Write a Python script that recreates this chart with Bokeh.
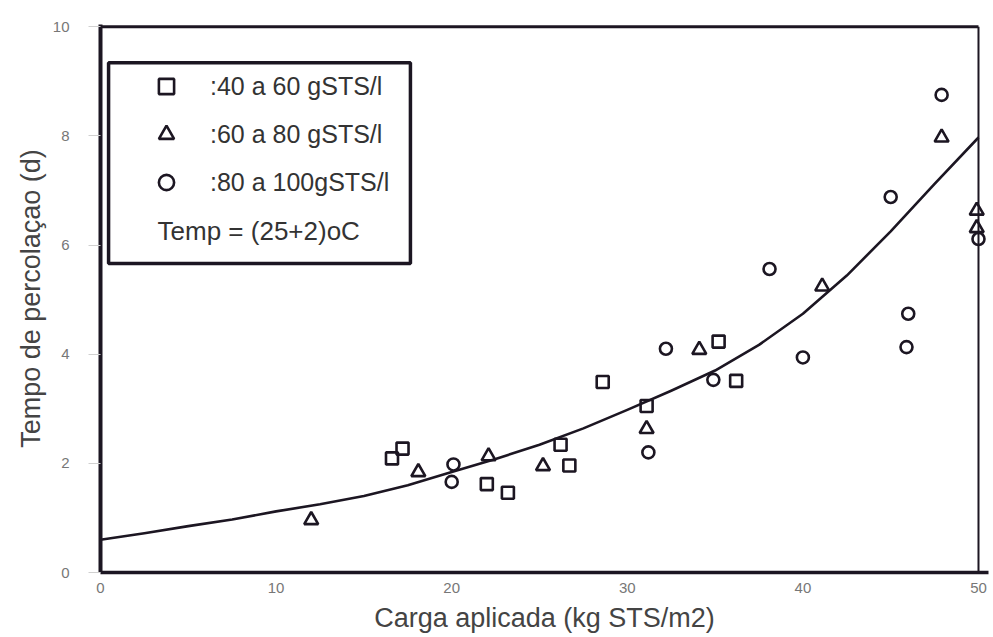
from bokeh.plotting import figure
from bokeh.models import Range1d, FixedTicker, Legend, LegendItem, Label, BoxAnnotation
from bokeh.embed import file_html
from bokeh.resources import INLINE

# ---- data ----
sq_x = [16.6, 17.2, 22.0, 23.2, 26.2, 26.7, 28.6, 31.1, 35.2, 36.2]
sq_y = [2.09, 2.27, 1.62, 1.46, 2.34, 1.96, 3.49, 3.05, 4.23, 3.51]

tri_x = [12.0, 18.1, 22.1, 25.2, 31.1, 34.1, 41.1, 47.9, 49.9, 49.9]
tri_y = [0.96, 1.84, 2.13, 1.95, 2.63, 4.08, 5.24, 7.97, 6.63, 6.31]

cir_x = [20.1, 20.0, 31.2, 32.2, 34.9, 38.1, 40.0, 45.0, 46.0, 45.9, 47.9, 50.0]
cir_y = [1.98, 1.66, 2.20, 4.10, 3.53, 5.56, 3.94, 6.88, 4.74, 4.13, 8.75, 6.11]

curve_x = [0.0, 2.5, 5.0, 7.5, 10.0, 12.5, 15.0, 17.5, 20.0, 22.5, 25.0,
           27.5, 30.0, 32.5, 35.0, 37.5, 40.0, 42.5, 45.0, 47.5, 50.0]
curve_y = [0.60, 0.72, 0.85, 0.97, 1.12, 1.25, 1.40, 1.60, 1.84, 2.08, 2.34,
           2.64, 2.98, 3.33, 3.70, 4.17, 4.74, 5.44, 6.25, 7.12, 7.97]

x_ticks = [0, 10, 20, 30, 40, 50]
y_ticks = [0, 2, 4, 6, 8, 10]

labels = [":40 a 60 gSTS/l", ":60 a 80 gSTS/l", ":80 a 100gSTS/l"]
note = "Temp = (25+2)oC"
x_title = "Carga aplicada (kg STS/m2)"
y_title = "Tempo de percolaçao (d)"

INK = "#1c1622"
FONT = "Liberation Sans"

p = figure(width=993, height=637, output_backend="svg", toolbar_location=None,
           x_range=Range1d(0, 50.57), y_range=Range1d(0, 10.04),
           min_border_left=100, min_border_right=5,
           min_border_top=24, min_border_bottom=65)
p.outline_line_color = None
p.grid.visible = False
p.background_fill_color = "white"

# frame lines (top and right)
XMAX = x_ticks[-1]
YMAX = y_ticks[-1]
p.line([0, XMAX], [YMAX, YMAX], line_color=INK, line_width=3)
p.line([XMAX, XMAX], [0, YMAX], line_color=INK, line_width=2)

# fitted curve
p.line(curve_x, curve_y, line_color=INK, line_width=2.6, line_join="round")

r_sq = p.scatter(sq_x, sq_y, marker="square", size=12, fill_color=None,
                 line_color=INK, line_width=2.6)
r_tri = p.scatter(tri_x, tri_y, marker="triangle", size=14, fill_color=None,
                  line_color=INK, line_width=2.6)
r_cir = p.scatter(cir_x, cir_y, marker="circle", size=12, fill_color=None,
                  line_color=INK, line_width=2.6)

# axes
for ax in (p.xaxis, p.yaxis):
    ax.major_label_text_font = FONT
    ax.major_label_text_font_size = "15px"
    ax.major_label_text_color = "#777777"
    ax.axis_label_text_font = FONT
    ax.axis_label_text_font_style = "normal"
    ax.axis_label_text_color = "#444444"
    ax.minor_tick_line_color = None
    ax.axis_line_color = INK

p.xaxis.ticker = FixedTicker(ticks=x_ticks)
p.yaxis.ticker = FixedTicker(ticks=y_ticks)
p.xaxis.axis_label = x_title
p.yaxis.axis_label = y_title
p.xaxis.axis_label_text_font_size = "27px"
p.yaxis.axis_label_text_font_size = "27px"
p.xaxis.axis_line_width = 3.5
p.yaxis.axis_line_width = 4
p.xaxis.major_tick_line_color = None
p.xaxis.major_tick_in = 0
p.xaxis.major_tick_out = 0
p.xaxis.major_label_standoff = 10
p.xaxis.axis_label_standoff = 7
p.yaxis.major_tick_in = 0
p.yaxis.major_tick_out = 12
p.yaxis.major_tick_line_color = "#d0d0d0"
p.yaxis.major_label_standoff = 19
p.yaxis.axis_label_standoff = 4

# legend box
p.add_layout(BoxAnnotation(left=0.46, right=17.65, bottom=5.66, top=9.34,
                           fill_color=None, fill_alpha=0,
                           line_color=INK, line_alpha=1.0, line_width=3.5))

legend = Legend(items=[LegendItem(label=labels[0], renderers=[r_sq]),
                       LegendItem(label=labels[1], renderers=[r_tri]),
                       LegendItem(label=labels[2], renderers=[r_cir])],
                location=(47, 371), padding=0, margin=0, spacing=10,
                glyph_width=38, glyph_height=38, label_standoff=25,
                label_text_font=FONT, label_text_font_size="25px",
                label_text_color="#333333", border_line_color=None,
                background_fill_alpha=0)
p.add_layout(legend)

p.add_layout(Label(x=3.25, y=6.26, text=note, text_baseline="middle",
                   text_font=FONT, text_font_size="26px", text_color="#333333"))

open("out.html", "w").write(file_html(p, INLINE))
